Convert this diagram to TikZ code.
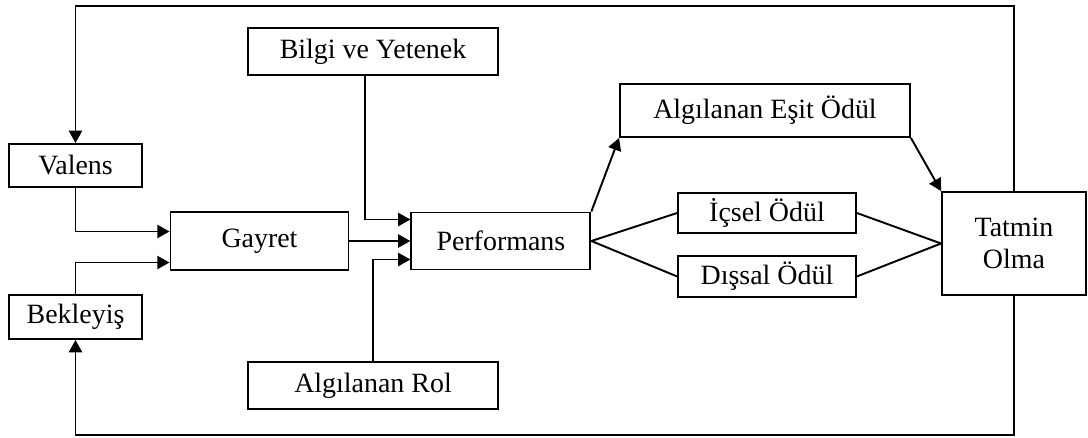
\documentclass[tikz,border=0pt]{standalone}
\usepackage{fontspec}
\setmainfont{Liberation Serif}
\usepackage{tikz}
\usetikzlibrary{arrows.meta,positioning}
\tikzset{
  modelbox/.style={
    draw=black,
    line width=1.1pt,
    fill=white,
    align=center,
    inner sep=2pt,
    font=\fontsize{15.9}{18.2}\selectfont
  },
  modelarrow/.style={
    -{Triangle[length=7pt,width=7.5pt]},
    line width=1.1pt,
    draw=black
  },
  modelline/.style={
    line width=1.1pt,
    draw=black
  }
}

\begin{document}
\begin{tikzpicture}[x=0.02cm, y=-0.02cm, node distance=1.22cm]
  \useasboundingbox (0,0) rectangle (1088,437);

  \node[modelbox, minimum width=3.56cm, minimum height=1.16cm] (gayret) at (259.5,241) {Gayret};
  \node[modelbox, minimum width=3.58cm, minimum height=1.14cm, right=of gayret] (performans) {Performans};
  \node[modelbox, minimum width=2.66cm, minimum height=0.86cm] (valens) at (75.5,165.5) {Valens};
  \node[modelbox, minimum width=2.66cm, minimum height=0.88cm] (bekleyis) at (75.5,317) {Bekleyiş};
  \node[modelbox, minimum width=5.0cm, minimum height=0.94cm] (bilgi) at (373,51.5) {Bilgi ve Yetenek};
  \node[modelbox, minimum width=5.0cm, minimum height=0.94cm] (rol) at (373,385.5) {Algılanan Rol};
  \node[modelbox, minimum width=5.8cm, minimum height=1.06cm] (esit) at (765,110.5) {Algılanan Eşit Ödül};
  \node[modelbox, minimum width=3.56cm, minimum height=0.8cm] (icsel) at (767,213) {İçsel Ödül};
  \node[modelbox, minimum width=3.56cm, minimum height=0.82cm, below=0.42cm of icsel] (dissal) {Dışsal Ödül};
  \node[modelbox, minimum width=2.88cm, minimum height=2.06cm] (tatmin) at (1014,243.5) {Tatmin\\Olma};

  \coordinate (ust) at (0,6);
  \coordinate (alt) at (0,435);

  % geri besleme
  \draw[modelarrow] (tatmin.north) -- (tatmin.north |- ust) -| (valens.north);
  \draw[modelarrow] (tatmin.south) -- (tatmin.south |- alt) -| (bekleyis.south);

  \draw[modelarrow] (valens.south) |- ([yshift=0.19cm]gayret.west);
  \draw[modelarrow] (bekleyis.north) |- ([yshift=-0.43cm]gayret.west);
  \draw[modelarrow] (gayret) -- (performans);
  \draw[modelarrow] ([xshift=-0.16cm]bilgi.south) |- ([yshift=0.43cm]performans.west);
  \draw[modelarrow] (rol.north) |- ([yshift=-0.37cm]performans.west);

  \draw[modelarrow] (performans.north east) -- (esit.south west);
  \draw[modelarrow] (esit.south east) -- (tatmin.north west);
  \draw[modelline] (performans.east) -- (icsel.west);
  \draw[modelline] (performans.east) -- (dissal.west);
  \draw[modelline] (icsel.east) -- (tatmin.west);
  \draw[modelline] (dissal.east) -- (tatmin.west);
\end{tikzpicture}
\end{document}
